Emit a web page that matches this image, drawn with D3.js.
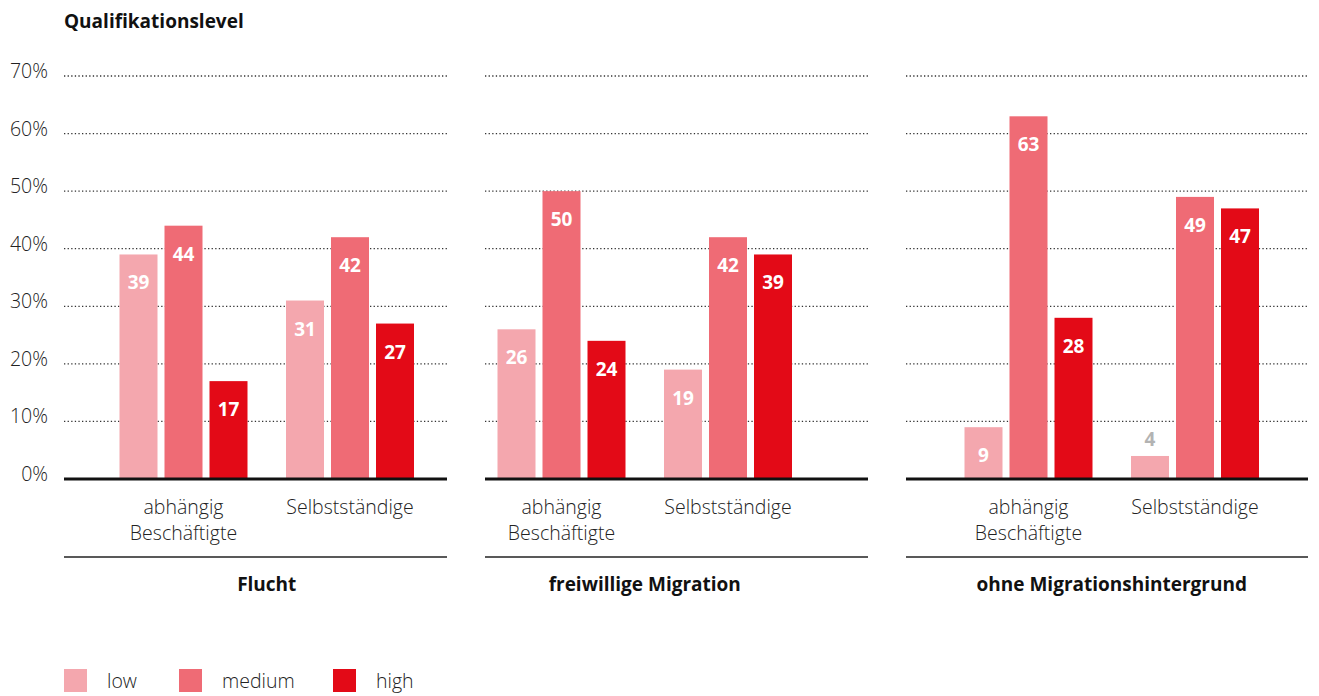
<!DOCTYPE html>
<html>
<head>
<meta charset="utf-8">
<script src="https://cdn.jsdelivr.net/npm/d3@7"></script>
<style>
  body { margin: 0; background: #fff; }
  svg { display: block; font-family: 'Open Sans', 'Noto Sans', sans-serif; }
</style>
</head>
<body>
<div id="chart"></div>
<script>
// data
const panelTitles = ['Flucht', 'freiwillige Migration', 'ohne Migrationshintergrund'];
const categories = ['abhängig Beschäftigte', 'Selbstständige'];
const categoryLines = [['abhängig', 'Beschäftigte'], ['Selbstständige']];
const seriesNames = ['low', 'medium', 'high'];
// per panel: [abhängig Beschäftigte, Selbstständige]
const lowValues = [[39, 31], [26, 19], [9, 4]];
const mediumValues = [[44, 42], [50, 42], [63, 49]];
const highValues = [[17, 27], [24, 39], [28, 47]];
const yTicks = [0, 10, 20, 30, 40, 50, 60, 70];
const yTitle = 'Qualifikationslevel';

const width = 1319;
const height = 696;
const colors = ['#f4a7ae', '#ef6b75', '#e30a17'];

// panel layout (x extents and group centres)
const panelLayout = [
  { x0: 64, x1: 447, c: [183.5, 350] },
  { x0: 485, x1: 868, c: [561.5, 728] },
  { x0: 906, x1: 1308, c: [1028.5, 1195] }
];

const svg = d3.select('#chart').append('svg')
  .attr('width', width)
  .attr('height', height);

const y = d3.scaleLinear()
  .domain([0, 70])
  .range([479, 76]);

const color = d3.scaleOrdinal()
  .domain(seriesNames)
  .range(colors);

const inner = d3.scaleBand()
  .domain(seriesNames)
  .range([-64, 64])
  .paddingInner(7 / 45)
  .paddingOuter(0);

// title
svg.append('text')
  .attr('x', 64)
  .attr('y', 28)
  .attr('font-size', 19)
  .attr('font-weight', 700)
  .attr('fill', '#111')
  .text(yTitle);

// y tick labels
svg.selectAll('.ytick')
  .data(yTicks)
  .enter()
  .append('text')
  .attr('class', 'ytick')
  .attr('x', 48)
  .attr('y', d => y(d) + 2)
  .attr('text-anchor', 'end')
  .attr('font-size', 19.5)
  .attr('font-weight', 300)
  .attr('fill', '#222')
  .text(d => d + '%');

panelTitles.forEach((title, p) => {
  const lay = panelLayout[p];
  const g = svg.append('g');

  const x = d3.scalePoint()
    .domain(categories)
    .range(lay.c);

  // gridlines
  g.selectAll('.grid')
    .data(yTicks.filter(d => d > 0))
    .enter()
    .append('line')
    .attr('x1', lay.x0)
    .attr('x2', lay.x1)
    .attr('y1', d => y(d))
    .attr('y2', d => y(d))
    .attr('stroke', '#333')
    .attr('stroke-width', 1.3)
    .attr('stroke-dasharray', '1.3,2.3');

  const rows = [];
  categories.forEach((cat, i) => {
    rows.push({ cat, s: 'low', v: lowValues[p][i] });
    rows.push({ cat, s: 'medium', v: mediumValues[p][i] });
    rows.push({ cat, s: 'high', v: highValues[p][i] });
  });

  g.selectAll('.bar')
    .data(rows)
    .enter()
    .append('rect')
    .attr('x', d => x(d.cat) + inner(d.s))
    .attr('y', d => y(d.v))
    .attr('width', inner.bandwidth())
    .attr('height', d => y(0) - y(d.v) + 1)
    .attr('fill', d => color(d.s));

  // value labels
  g.selectAll('.val')
    .data(rows)
    .enter()
    .append('text')
    .attr('x', d => x(d.cat) + inner(d.s) + inner.bandwidth() / 2)
    .attr('y', d => d.v < 7 ? y(d.v) - 10 : y(d.v) + 35)
    .attr('text-anchor', 'middle')
    .attr('font-size', 19)
    .attr('font-weight', 700)
    .attr('fill', d => d.v < 7 ? '#b3b3b3' : '#fff')
    .text(d => d.v);

  // baseline
  g.append('line')
    .attr('x1', lay.x0)
    .attr('x2', lay.x1)
    .attr('y1', y(0))
    .attr('y2', y(0))
    .attr('stroke', '#111')
    .attr('stroke-width', 3);

  // category labels
  categories.forEach((cat, i) => {
    const t = g.append('text')
      .attr('x', x(cat))
      .attr('y', 514)
      .attr('text-anchor', 'middle')
      .attr('font-size', 19.5)
      .attr('font-weight', 300)
      .attr('fill', '#222');
    categoryLines[i].forEach((line, k) => {
      t.append('tspan')
        .attr('x', x(cat))
        .attr('dy', k === 0 ? 0 : 26)
        .text(line);
    });
  });

  // separator
  g.append('line')
    .attr('x1', lay.x0)
    .attr('x2', lay.x1)
    .attr('y1', 557)
    .attr('y2', 557)
    .attr('stroke', '#222')
    .attr('stroke-width', 1.5);

  // panel title
  g.append('text')
    .attr('x', (lay.c[0] + lay.c[1]) / 2)
    .attr('y', 591)
    .attr('text-anchor', 'middle')
    .attr('font-size', 19)
    .attr('font-weight', 700)
    .attr('fill', '#111')
    .text(title);
});

// legend
const legendX = [64, 179, 333];
const legend = svg.selectAll('.legend')
  .data(seriesNames)
  .enter()
  .append('g')
  .attr('transform', (d, i) => `translate(${legendX[i]},669)`);

legend.append('rect')
  .attr('width', 23)
  .attr('height', 23)
  .attr('fill', d => color(d));

legend.append('text')
  .attr('x', 43)
  .attr('y', 19)
  .attr('font-size', 19.5)
  .attr('font-weight', 300)
  .attr('fill', '#222')
  .text(d => d);
</script>
</body>
</html>
